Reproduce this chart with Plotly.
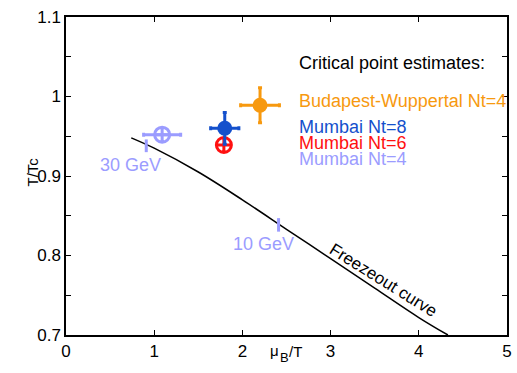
import plotly.graph_objects as go

# Freezeout curve
fo_x = [0.74, 1.0, 1.5, 2.0, 2.5, 3.0, 3.5, 4.0, 4.33]
fo_y = [0.948, 0.935, 0.905, 0.870, 0.833, 0.796, 0.759, 0.722, 0.700]

# Critical point estimates
names = ["Budapest-Wuppertal Nt=4", "Mumbai Nt=8", "Mumbai Nt=6", "Mumbai Nt=4"]
cp_x = [2.20, 1.80, 1.79, 1.09]
cp_y = [0.989, 0.960, 0.939, 0.952]
cp_ex = [0.22, 0.16, 0.0, 0.21]
cp_ey = [0.022, 0.020, 0.0, 0.0]
colors = ["#f7990f", "#1450cc", "#ff1010", "#9b9cff"]
symbols = ["circle", "circle", "circle-cross-open", "circle-cross-open"]

# Beam energy markers on the freezeout curve
en_labels = ["30 GeV", "10 GeV"]
en_x = [0.91, 2.41]
en_y = [0.938, 0.8385]
en_half = [0.008, 0.0085]

FONT = "Liberation Sans, Arial, Helvetica, sans-serif"

fig = go.Figure()
fig.add_trace(go.Scatter(x=fo_x, y=fo_y, mode="lines",
                         line=dict(color="black", width=1.5, shape="spline"),
                         showlegend=False, hoverinfo="skip"))

# energy markers
fig.add_trace(go.Scatter(x=en_x, y=en_y, mode="markers",
                         marker=dict(size=1, color="rgba(0,0,0,0)"),
                         error_y=dict(type="data", array=en_half, color="#9b9cff",
                                      thickness=3, width=0),
                         showlegend=False, hoverinfo="skip"))

# draw order: Nt=4, Nt=6, Nt=8, BW
for i in [3, 2, 1, 0]:
    open_sym = symbols[i].endswith("open")
    fig.add_trace(go.Scatter(
        x=[cp_x[i]], y=[cp_y[i]], mode="markers", name=names[i],
        marker=dict(symbol=symbols[i], size=15, color=colors[i],
                    line=dict(color=colors[i], width=3 if open_sym else 0)),
        error_x=dict(type="data", array=[cp_ex[i]], color=colors[i], thickness=3, width=2,
                     visible=cp_ex[i] > 0),
        error_y=dict(type="data", array=[cp_ey[i]], color=colors[i], thickness=3, width=2,
                     visible=cp_ey[i] > 0),
        showlegend=False))

ann = []
ann.append(dict(x=2.62, y=1.042, text="Critical point estimates:", showarrow=False,
                xanchor="left", yanchor="middle", font=dict(size=18, color="black")))
leg_y = [0.994, 0.9616, 0.9415, 0.921]
for i in range(4):
    ann.append(dict(x=2.62, y=leg_y[i], text=names[i], showarrow=False,
                    xanchor="left", yanchor="middle", font=dict(size=18, color=colors[i])))
ann.append(dict(x=0.73, y=0.914, text=en_labels[0], showarrow=False,
                font=dict(size=18, color="#9b9cff")))
ann.append(dict(x=2.24, y=0.814, text=en_labels[1], showarrow=False,
                font=dict(size=18, color="#9b9cff")))
ann.append(dict(x=3.6, y=0.769, text="Freezeout curve", showarrow=False, textangle=32,
                font=dict(size=17, color="black")))
ann.append(dict(xref="paper", yref="paper", x=0, y=0.5126, xshift=-44, text="T/Tc",
                textangle=-90, showarrow=False, font=dict(size=15, color="black")))
# x-axis title μ_B/T built from pieces so the subscript keeps a readable size
ann.append(dict(xref="paper", yref="paper", x=0.5, y=0, xshift=-12, yshift=-26,
                text="μ", showarrow=False, font=dict(size=15, color="black")))
ann.append(dict(xref="paper", yref="paper", x=0.5, y=0, xshift=-2.5, yshift=-32,
                text="B", showarrow=False, font=dict(size=13, color="black")))
ann.append(dict(xref="paper", yref="paper", x=0.5, y=0, xshift=8.5, yshift=-27,
                text="/T", showarrow=False, font=dict(size=15, color="black")))

axis_common = dict(showline=True, linecolor="black", linewidth=1.5, mirror="allticks",
                   ticks="inside", ticklen=5, tickwidth=1, tickcolor="black",
                   showgrid=False, zeroline=False,
                   tickfont=dict(size=17, color="black", family=FONT))

fig.update_layout(
    width=517, height=373,
    margin=dict(l=66, r=5, t=17, b=38),
    paper_bgcolor="white", plot_bgcolor="white",
    font=dict(family=FONT, size=15, color="black"),
    xaxis=dict(range=[0, 5], dtick=1, tick0=0, **axis_common),
    yaxis=dict(range=[0.7, 1.1], dtick=0.1, tick0=0.7, tickformat="~g",
               minor=dict(dtick=0.05, ticks="inside", ticklen=5, tickcolor="black"),
               **axis_common),
    annotations=ann,
    showlegend=False,
)

fig.write_html("out.html", config={"displayModeBar": False},
               post_script="document.body.style.margin='0';document.body.style.overflow='hidden';")
